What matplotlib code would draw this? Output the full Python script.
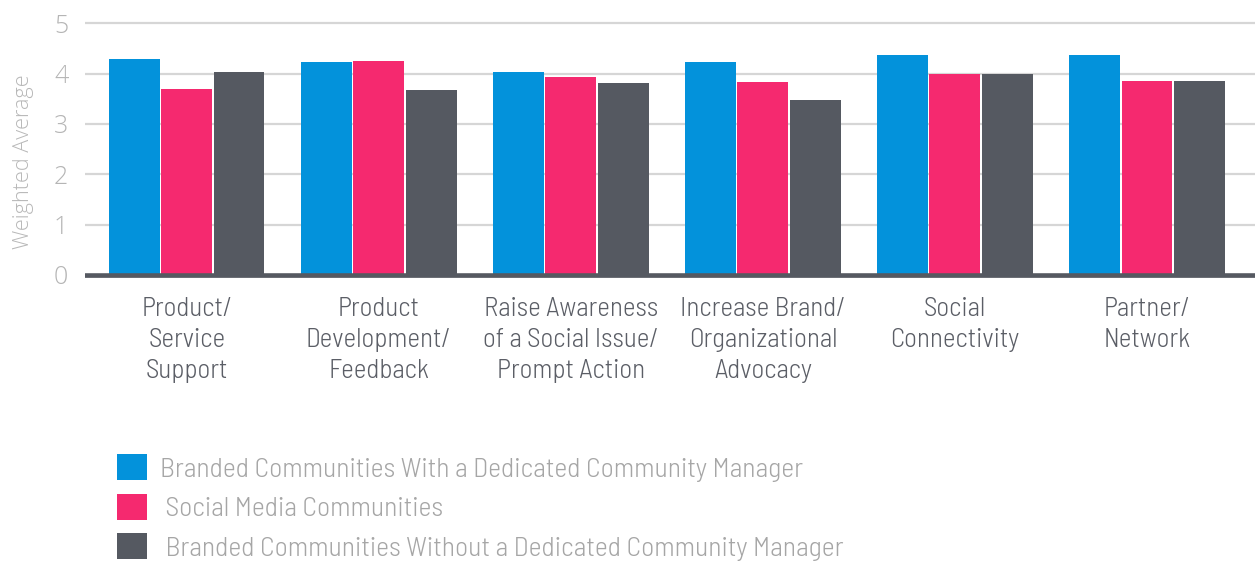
import os
import numpy as np
import matplotlib
matplotlib.use("Agg")
import matplotlib.pyplot as plt
from matplotlib import font_manager
from matplotlib.font_manager import FontProperties

categories = [
    "Product/\nService\nSupport",
    "Product\nDevelopment/\nFeedback",
    "Raise Awareness\nof a Social Issue/\nPrompt Action",
    "Increase Brand/\nOrganizational\nAdvocacy",
    "Social\nConnectivity",
    "Partner/\nNetwork",
]
series_names = [
    "Branded Communities With a Dedicated Community Manager",
    " Social Media Communities",
    " Branded Communities Without a Dedicated Community Manager",
]
with_manager = [4.29, 4.23, 4.03, 4.23, 4.37, 4.37]
social_media = [3.69, 4.25, 3.93, 3.83, 3.99, 3.85]
without_manager = [4.03, 3.67, 3.81, 3.47, 3.99, 3.85]
yticks = [0, 1, 2, 3, 4, 5]

colors = ["#0392db", "#f5296f", "#555961"]

# light condensed face: Open Sans Condensed Light if present, else Barlow Semi Condensed Light
files = [f.fname for f in font_manager.fontManager.ttflist]
cond_file = None
for want in [("opensans", "condensed", "light"), ("barlowsemicondensed-light",)]:
    for fn in files:
        b = os.path.basename(fn).lower().replace("_", "").replace(" ", "")
        if all(k in b for k in want) and "italic" not in b and "extra" not in b:
            cond_file = fn
            break
    if cond_file:
        break
names = {f.name for f in font_manager.fontManager.ttflist}
main_font = "Open Sans" if "Open Sans" in names else "DejaVu Sans"


def cond_prop(size):
    if cond_file:
        return FontProperties(fname=cond_file, size=size)
    return FontProperties(family=main_font, weight="light", size=size * 0.85)


fig = plt.figure(figsize=(12.55, 5.65), dpi=100)
fig.patch.set_facecolor("white")
ax = fig.add_axes([85 / 1255, 285 / 565, 1170 / 1255, 5.2 * 50.34 / 565])

x = np.arange(len(categories))
step = 0.272
w = 0.265
values = [with_manager, social_media, without_manager]
for i, vals in enumerate(values):
    ax.bar(x + (i - 1) * step, vals, width=w, color=colors[i],
           label=series_names[i], zorder=2)

ax.set_xlim(-0.53, 5.5625)
ax.set_ylim(-0.1, 5.1)

for t in yticks[1:]:
    ax.axhline(t, color="#d6d6d6", lw=1.6, zorder=1)
ax.axhline(-0.04, color="#c4c6ca", lw=1.4, zorder=1)
ax.axhline(0, color="#555961", lw=3.3, zorder=3)

for s in ax.spines.values():
    s.set_visible(False)
ax.set_facecolor("none")

ax.set_yticks(yticks)
ax.set_yticklabels([str(t) for t in yticks], fontsize=18, color="#b5b5b5",
                   family=main_font, fontweight="light")
ax.tick_params(axis="y", length=0, pad=12)

ax.set_xticks(x)
ax.set_xticklabels(categories, fontproperties=cond_prop(19.5), color="#5b5e66",
                   linespacing=1.38, va="top")
ax.tick_params(axis="x", length=0, pad=12)

fig.text(24 / 1255, 1 - 162 / 565, "Weighted Average", rotation=90,
         fontsize=15.6, color="#b8b8b8", family=main_font, fontweight="light",
         ha="center", va="center")

fig.legend(loc="upper left", bbox_to_anchor=(117 / 1255, 1 - 454 / 565),
           frameon=False, borderpad=0, borderaxespad=0,
           handlelength=1.08, handleheight=1.08, handletextpad=0.47,
           labelspacing=0.43, prop=cond_prop(20), labelcolor="#a6a6a6")

fig.savefig("out.png", dpi=100)
